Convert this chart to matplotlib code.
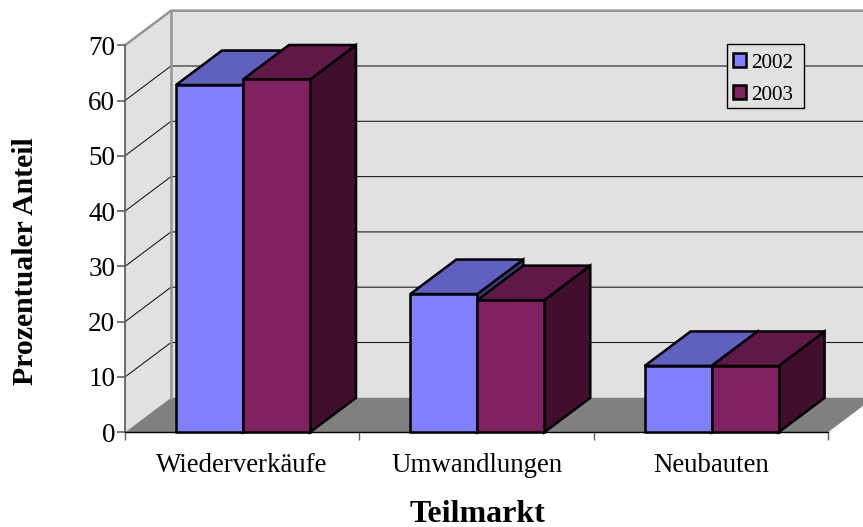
import matplotlib
matplotlib.use("Agg")
import matplotlib.pyplot as plt
from matplotlib.patches import Patch, Rectangle

plt.rcParams['font.family'] = ['Liberation Serif', 'DejaVu Serif']

kategorien = ["Wiederverkäufe", "Umwandlungen", "Neubauten"]
werte_2002 = [62.8, 25.0, 12.0]
werte_2003 = [63.8, 23.9, 12.0]
jahre = ["2002", "2003"]
y_ticks = [0, 10, 20, 30, 40, 50, 60, 70]

# Farben: Vorderseite, Oberseite, Seite
farben_2002 = ("#8080ff", "#6060c0", "#404080")
farben_2003 = ("#802060", "#601848", "#400f2e")

B, H = 863, 527
fig = plt.figure(figsize=(B / 100, H / 100), dpi=100, facecolor="white")
# Achse so gelegt, dass 1 Kategorie = 234.3 px und 10 % = 55.3 px
ax = fig.add_axes([125 / B, (H - 432.3) / H, (B - 125) / B, 432.3 / H])
ax.set_xlim(0, (B - 125) / 234.3)
ax.set_ylim(0, 432.3 / 5.53)
ax.set_facecolor("none")

# Tiefe des 3D-Effekts in Datenkoordinaten
dx = 46 / 234.3
dy = 34.5 / 5.53
xmax = ax.get_xlim()[1]
ymax = y_ticks[-1]

# Wände und Boden
ax.fill([dx, xmax, xmax, dx], [dy, dy, ymax + dy, ymax + dy], color="#e1e1e1", lw=0, zorder=1)
ax.fill([0, dx, dx, 0], [0, dy, ymax + dy, ymax], color="#e1e1e1", lw=0, zorder=1)
ax.fill([0, dx, 3 + dx, 3], [0, dy, dy, 0], color="#808080", lw=0, zorder=1)

# Gitterlinien
for t in y_ticks[1:-1]:
    ax.plot([0, dx, xmax], [t, t + dy, t + dy], color="#202020", lw=0.8, zorder=2)
ax.plot([0, dx, xmax], [ymax, ymax + dy, ymax + dy], color="#949494", lw=1.8, zorder=2)
ax.plot([dx, dx], [dy, ymax + dy], color="#949494", lw=1.8, zorder=2)

# Balken
breite = 67 / 234.3
start = 51 / 234.3


def balken(x, wert, farben, z):
    ax.fill([x + breite, x + breite + dx, x + breite + dx, x + breite],
            [0, dy, wert + dy, wert], facecolor=farben[2], edgecolor="black", lw=1.8, zorder=z, clip_on=False)
    ax.fill([x, x + dx, x + breite + dx, x + breite],
            [wert, wert + dy, wert + dy, wert], facecolor=farben[1], edgecolor="black", lw=1.8, zorder=z, clip_on=False)
    ax.bar(x, wert, width=breite, align="edge", color=farben[0], edgecolor="black", lw=1.8, zorder=z, clip_on=False)


for i in range(len(kategorien)):
    balken(i + start, werte_2002[i], farben_2002, 3 + i * 2)
    balken(i + start + breite, werte_2003[i], farben_2003, 4 + i * 2)

# Achsen
for s in ["top", "right"]:
    ax.spines[s].set_visible(False)
ax.spines["left"].set_bounds(0, ymax)
ax.spines["left"].set_color("#606060")
ax.spines["left"].set_linewidth(1.3)
ax.spines["bottom"].set_bounds(0, 3)
ax.spines["bottom"].set_color("black")
ax.spines["bottom"].set_linewidth(1.0)
ax.spines["left"].set_zorder(2)

ax.set_yticks(y_ticks)
ax.tick_params(axis="y", length=6, width=1.2, color="#606060", labelsize=19.5, pad=1)
ax.set_xticks([0, 1, 2, 3])
ax.set_xticklabels([])
ax.set_xticks([0.5, 1.5, 2.5], labels=kategorien, minor=True)
ax.tick_params(axis="x", which="major", length=6, width=1.0, color="#606060")
ax.tick_params(axis="x", which="minor", length=0, labelsize=19.4, pad=15)

fig.text(477 / B, 1 - 514 / H, "Teilmarkt", fontsize=23, fontweight="bold", ha="center", va="center")
fig.text(25.5 / B, 1 - 261.5 / H, "Prozentualer Anteil", fontsize=21.4, fontweight="bold",
         rotation=90, ha="center", va="center")

# Legende: Rahmen extra, damit die Zeilen mittig sitzen
rahmen = Rectangle((726.5 / B, 1 - 108 / H), 77 / B, 64 / H, transform=fig.transFigure,
                   facecolor="#e1e1e1", edgecolor="black", lw=1.0, zorder=19, clip_on=False)
ax.add_patch(rahmen)
griffe = [Patch(facecolor=farben_2002[0], edgecolor="black", lw=1.8),
          Patch(facecolor=farben_2003[0], edgecolor="black", lw=1.8)]
leg = ax.legend(griffe, jahre, loc="upper left", bbox_to_anchor=(726.5 / B, 1 - 47 / H),
                bbox_transform=fig.transFigure, fontsize=15.2, frameon=False,
                handlelength=0.62, handleheight=0.62,
                handletextpad=0.25, labelspacing=0.6, borderpad=0.3, borderaxespad=0)
leg.set_zorder(20)

fig.savefig("out.png", dpi=100)
